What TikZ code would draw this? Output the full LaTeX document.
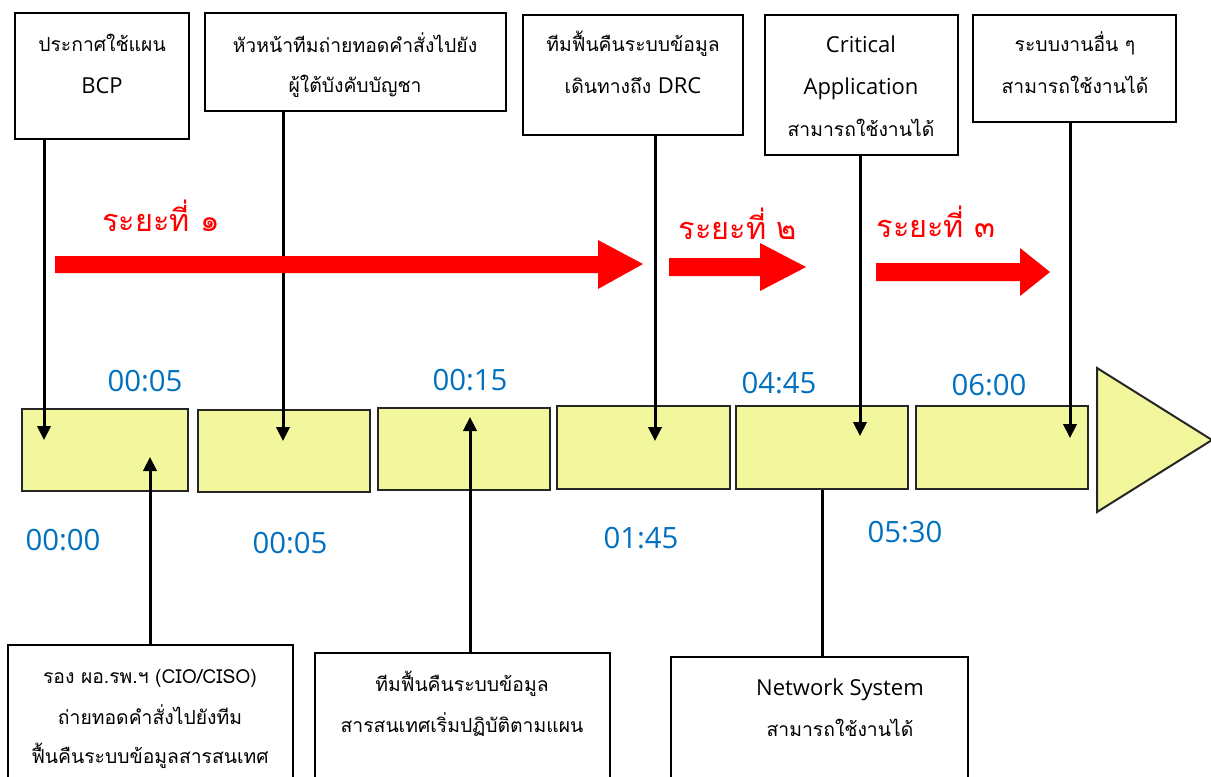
\documentclass[tikz,border=0pt]{standalone}
\usepackage{fontspec}
\setmainfont{Open Sans}
\newfontfamily\thai[Script=Thai]{Loma}
\usetikzlibrary{arrows.meta,calc,fit}
\definecolor{tlyellow}{RGB}{242,247,158}
\definecolor{timeblue}{RGB}{0,112,192}
\definecolor{phred}{RGB}{255,0,0}
\begin{document}
\begin{tikzpicture}[x=0.75pt,y=-0.75pt,
  box/.style={draw=black,line width=1.5pt,fill=white,inner sep=0pt},
  txt/.style={inner sep=0pt,yshift=-2.5pt,text height=0.75em,text depth=0.25em,font=\thai\fontsize{14.5}{18}\selectfont},
  ltxt/.style={inner sep=0pt,yshift=-3pt,text height=0.75em,text depth=0.25em,font=\fontsize{16.5}{20}\selectfont},
  seg/.style={draw=black!85,line width=1.5pt,fill=tlyellow,inner sep=0pt},
  timel/.style={text=timeblue,font=\fontsize{22}{26}\selectfont,inner sep=0pt},
  phase/.style={text=phred,font=\thai\fontsize{23}{28}\selectfont,inner sep=0pt},
  link/.style={line width=2.25pt,-{Triangle[length=10.5pt,width=10pt]}},
  plain/.style={line width=2.25pt},
  redarrow/.style={fill=phred,draw=none}]
\useasboundingbox (0,0) rectangle (1211,776);
\fill[white] (0,0) rectangle (1211,776);

% timeline segments
\node[seg,fit={(22,409)(188,491)}] (t1) {};
\node[seg,fit={(198,410)(370,492)}] (t2) {};
\node[seg,fit={(378,408)(550,490)}] (t3) {};
\node[seg,fit={(557,406)(730,489)}] (t4) {};
\node[seg,fit={(736,406)(908,489)}] (t5) {};
\node[seg,fit={(916,406)(1088,489)}] (t6) {};
\draw[draw=black!85,line width=1.5pt,fill=tlyellow] (1097,368) -- (1212,440) -- (1097,512) -- cycle;

% top boxes
\node[box,fit={(15,13)(189,139)}] (A) {};
\node[txt] (A1) at (102,45) {ประกาศใช้แผน};
\node[ltxt] (A2) at (102,86) {BCP};
\node[box,fit={(205,13)(506,111)}] (B) {};
\node[txt] (B1) at (355,46) {หัวหน้าทีมถ่ายทอดคำสั่งไปยัง};
\node[txt] (B2) at (355,86) {ผู้ใต้บังคับบัญชา};
\node[box,fit={(523,15)(743,135)}] (C) {};
\node[txt] (C1) at (633,45) {ทีมฟื้นคืนระบบข้อมูล};
\node[txt] (C2) at (633,87) {เดินทางถึง {\rmfamily\fontsize{16.5}{20}\selectfont DRC}};
\node[box,fit={(765,15)(958,155)}] (D) {};
\node[ltxt] (D1) at (861,45) {Critical};
\node[ltxt] (D2) at (861,87) {Application};
\node[txt] (D3) at (861,130) {สามารถใช้งานได้};
\node[box,fit={(973,15)(1176,122)}] (E) {};
\node[txt] (E1) at (1075,45) {ระบบงานอื่น ๆ};
\node[txt] (E2) at (1075,87) {สามารถใช้งานได้};

% bottom boxes
\node[box,fit={(8,645)(293,800)}] (F) {};
\node[txt] (F1) at (150,677) {รอง ผอ.รพ.ฯ (CIO/CISO)};
\node[txt] (F2) at (150,718) {ถ่ายทอดคำสั่งไปยังทีม};
\node[txt] (F3) at (150,757) {ฟื้นคืนระบบข้อมูลสารสนเทศ};
\node[box,fit={(315,653)(610,800)}] (G) {};
\node[txt] (G1) at (462,685) {ทีมฟื้นคืนระบบข้อมูล};
\node[txt] (G2) at (462,726) {สารสนเทศเริ่มปฏิบัติตามแผน};
\node[box,fit={(671,657)(968,800)}] (H) {};
\node[ltxt] (H1) at (840,688) {Network System};
\node[txt] (H2) at (840,730) {สามารถใช้งานได้};

% arrow tips / anchors
\coordinate (pA) at (44,440);
\coordinate (pB) at (283,441);
\coordinate (pC) at (655,441);
\coordinate (pD) at (860,436);
\coordinate (pE) at (1070,438);
\coordinate (pF) at (150,457);
\coordinate (pG) at (470,417);
\coordinate (pH) at (822,0);

\draw[link] (A.south -| pA) -- (pA);
\draw[link] (B.south -| pB) -- (pB);
\draw[link] (C.south -| pC) -- (pC);
\draw[link] (D.south -| pD) -- (pD);
\draw[link] (E.south -| pE) -- (pE);
\draw[link] (F.north -| pF) -- (pF);
\draw[link] (G.north -| pG) -- (pG);
\draw[plain] (t5.south -| pH) -- (H.north -| pH);

% phase arrows
\fill[redarrow] (55,256) -- (598,256) -- (598,240) -- (643,264) -- (598,289) -- (598,273) -- (55,273) -- cycle;
\fill[redarrow] (669,258) -- (760,258) -- (760,243) -- (806,267) -- (760,291) -- (760,276) -- (669,276) -- cycle;
\fill[redarrow] (876,263) -- (1020,263) -- (1020,248) -- (1050,272) -- (1020,296) -- (1020,281) -- (876,281) -- cycle;
\node[phase] (ph1) at (161,216) {ระยะที่ ๑};
\node[phase] (ph2) at (738,224) {ระยะที่ ๒};
\node[phase] (ph3) at (936,222) {ระยะที่ ๓};

% times
\node[timel] (k1) at (145,381) {00:05};
\node[timel] (k2) at (470,380) {00:15};
\node[timel] (k3) at (779,383) {04:45};
\node[timel] (k4) at (989,385) {06:00};
\node[timel] (k5) at (63,540) {00:00};
\node[timel] (k6) at (290,543) {00:05};
\node[timel] (k7) at (641,538) {01:45};
\node[timel] (k8) at (905,532) {05:30};
\end{tikzpicture}
\end{document}
